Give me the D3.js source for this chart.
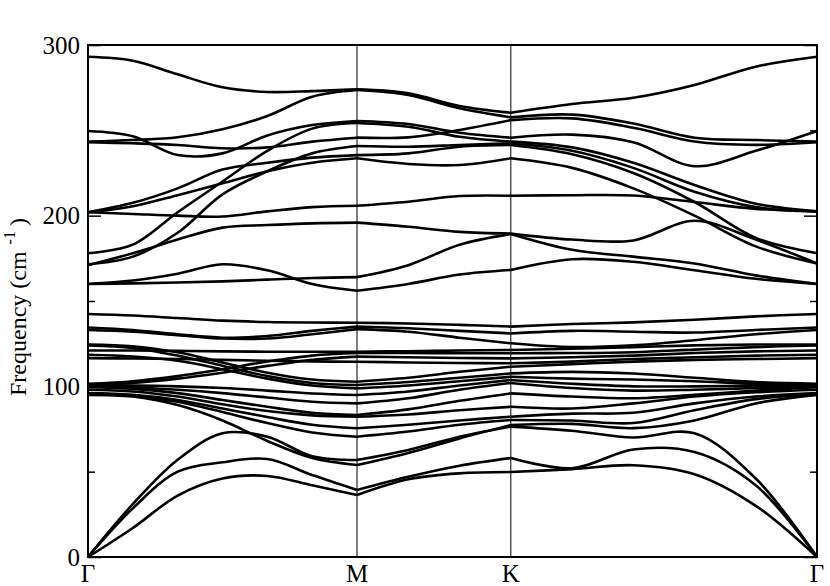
<!DOCTYPE html>
<html><head><meta charset="utf-8">
<script src="https://cdn.jsdelivr.net/npm/d3@7"></script>
<style>
body{margin:0;background:#fff}
svg text{font-family:"Liberation Serif","Times New Roman","DejaVu Serif",serif !important;fill:#000}
</style>
</head><body><svg id="c" width="830" height="586"></svg>
<script>
// high-symmetry points along the path (normalized path length) and samples per segment
const kLabels = ["Γ", "M", "K", "Γ"];
const kPos = [0, 0.369, 0.580, 1];
const segSamples = [6, 3, 5];
const yMajor = [0, 100, 200, 300];
const yMinor = [50, 150, 250];

// frequencies (cm^-1) at the sampled k points, Γ-M (7), M-K (3), K-Γ (5)
const acoustic = [
  [0, 17, 36, 46, 47.5, 42, 36.3, 45.5, 49, 49.8, 51.5, 53.8, 48.5, 30, 0],
  [0, 28.5, 50, 55.5, 57.4, 48, 39.3, 47, 53.5, 58, 52, 63, 61.5, 42, 0],
  [0, 31, 57, 72.5, 70.5, 59, 56.8, 62.7, 70.5, 76.4, 74, 70, 72.5, 46, 0]
];
const middleBands = [
  [142.4, 141.5, 140, 138.5, 137.7, 137.4, 137.3, 136.8, 136, 135, 136.5, 137.5, 139, 141, 142.4],
  [134.5, 133, 130.5, 128.5, 129.5, 132.5, 135, 134, 132.5, 131, 132.5, 132, 131.5, 133, 134.5],
  [133, 132, 130, 128, 128, 130.5, 133.5, 132, 128.5, 125.2, 123, 124, 127, 130.5, 133],
  [124.5, 123.5, 120, 114, 108, 104, 102.7, 105, 108.5, 111.5, 113, 114.5, 115.5, 116, 116.5],
  [124, 122.5, 118, 112, 106, 102, 100.8, 102.5, 105, 107.6, 108.5, 107.5, 105, 102.5, 101.5],
  [121, 121, 120.8, 120.5, 120.3, 120.3, 120.3, 120.6, 121, 121.3, 122, 123, 124, 124.5, 124.5],
  [118.5, 117.5, 115, 110, 104.5, 100.5, 98.8, 100.5, 103, 105.6, 104.5, 104, 103, 101.5, 101],
  [116.5, 116.3, 116, 115.5, 115, 114.6, 114.4, 114, 113.7, 113.5, 114.5, 116, 117, 118, 118.5],
  [101.5, 103, 106, 110, 114.5, 118, 119.5, 119.5, 119.4, 119.4, 119.5, 120, 121.5, 123, 124],
  [101, 102, 104.5, 108, 112, 115.5, 117.4, 117, 116.6, 116.4, 117, 118, 119.5, 120.5, 121],
  [100.5, 100.5, 100, 99, 97.5, 95.8, 94.9, 97, 100.5, 103.7, 101.5, 100, 100, 100.3, 100.5],
  [100, 99.5, 98, 96, 93.5, 91, 90, 93, 98, 102, 99, 97.5, 98, 99, 100],
  [99.5, 98.5, 96, 92, 88, 84.5, 83.2, 86.5, 91.5, 95.9, 94, 93, 95, 97.5, 99.5],
  [98, 97, 94, 89.5, 85.5, 83, 82.2, 83.5, 86, 88, 87, 90, 94, 96.5, 98],
  [96, 95, 92, 87, 82, 77.5, 75.4, 77.5, 80, 82.2, 84, 84.5, 90, 94, 96],
  [95.5, 94.5, 91, 85, 78.5, 73, 70.5, 73.5, 77.5, 80.3, 80, 78.5, 86, 92.5, 95.5],
  [95, 94, 89, 80, 68, 58, 53.9, 61, 69.5, 77.3, 78, 75.5, 80, 90, 95]
];
const upperBands = [
  [293.1, 290.8, 282.8, 275.2, 272.5, 273.0, 274.0, 271.7, 264.3, 260.3, 265.4, 269.1, 276.6, 287.3, 293.1],
  [243.4, 244.3, 245.9, 250.6, 258.4, 269.7, 273.6, 270.7, 262.9, 257.6, 259.2, 254, 245.7, 244.3, 243.4],
  [249.6, 246.5, 235.5, 236.5, 247, 253.1, 255.5, 253.7, 248.6, 245.7, 247.5, 243, 229, 238, 249.6],
  [243, 242.4, 241.4, 239.5, 240, 243.4, 245.7, 245.9, 250.2, 256, 257, 251.5, 243.5, 241.5, 243],
  [178, 183, 202, 220, 238, 251, 254.3, 252.1, 246.2, 243.4, 240, 231, 218, 207, 202.5],
  [171.5, 176, 190, 212.5, 226, 236.5, 240.8, 240.4, 241.4, 242.4, 238, 228, 214, 205, 202.5],
  [202, 207.5, 216, 227, 231, 234, 235.5, 236.5, 240.4, 241.4, 236, 225, 208, 187, 178],
  [202, 205.5, 212, 219, 226, 231, 233.6, 230.3, 229.7, 233.6, 228, 216, 200, 182, 172],
  [202, 201, 200, 199.5, 202.5, 205, 205.8, 208.2, 211.5, 211.7, 212, 211.8, 208, 204, 202.5],
  [171, 178, 186, 193, 194.5, 195.5, 195.9, 193.5, 190.5, 189.5, 186, 185.5, 197, 186, 172],
  [160, 160.3, 160.8, 161.5, 162.5, 163.5, 164, 171, 183, 189.3, 180, 176, 172, 165, 160],
  [160, 162, 166, 171.5, 168, 160, 156, 160, 165.5, 168.2, 174.5, 173, 168, 163, 160]
];

const svg = d3.select("#c");
const x = d3.scaleLinear().domain([0, 1]).range([88, 817]);
const y = d3.scaleLinear().domain([0, 300]).range([557, 45]);

// k grid
const kGrid = [];
const segStart = [];
segSamples.forEach((n, s) => {
  segStart.push(kGrid.length === 0 ? 0 : kGrid.length - 1);
  for (let i = (s === 0 ? 0 : 1); i <= n; i++) kGrid.push(kPos[s] + (kPos[s + 1] - kPos[s]) * i / n);
});

const line = d3.line().x(d => x(d[0])).y(d => y(d[1])).curve(d3.curveCatmullRom.alpha(0.5));

// symmetry lines
svg.selectAll("line.sym").data(kPos.slice(1, -1)).enter().append("line")
  .attr("x1", d => x(d)).attr("x2", d => x(d)).attr("y1", y(0)).attr("y2", y(300))
  .attr("stroke", "#000").attr("stroke-width", 1);

const allBands = acoustic.concat(middleBands, upperBands);
const g = svg.append("g");
allBands.forEach(b => {
  segSamples.forEach((n, s) => {
    const st = segStart[s];
    const pts = [];
    for (let i = st; i <= st + n; i++) pts.push([kGrid[i], b[i]]);
    g.append("path").attr("d", line(pts)).attr("fill", "none")
      .attr("stroke", "#000").attr("stroke-width", 2.6).attr("stroke-linejoin", "round");
  });
});

// frame
svg.append("rect").attr("x", x(0)).attr("y", y(300)).attr("width", x(1) - x(0)).attr("height", y(0) - y(300))
  .attr("fill", "none").attr("stroke", "#000").attr("stroke-width", 2);

// y axes
const left = svg.append("g").attr("transform", `translate(${x(0)},0)`)
  .call(d3.axisLeft(y).tickValues(yMajor).tickSizeInner(-13).tickSizeOuter(0).tickPadding(8));
const leftMinor = svg.append("g").attr("transform", `translate(${x(0)},0)`)
  .call(d3.axisLeft(y).tickValues(yMinor).tickSizeInner(-7).tickSizeOuter(0).tickFormat(""));
const right = svg.append("g").attr("transform", `translate(${x(1)},0)`)
  .call(d3.axisRight(y).tickValues(yMajor).tickSizeInner(-13).tickSizeOuter(0).tickFormat(""));
const rightMinor = svg.append("g").attr("transform", `translate(${x(1)},0)`)
  .call(d3.axisRight(y).tickValues(yMinor).tickSizeInner(-7).tickSizeOuter(0).tickFormat(""));
[left, leftMinor, right, rightMinor].forEach(a => {
  a.select(".domain").remove();
  a.selectAll("line").attr("stroke", "#000").attr("stroke-width", 1.5);
});
left.attr("font-family", null);
left.selectAll("text").attr("font-size", 25);

// x labels
svg.selectAll("text.k").data(kLabels).enter().append("text")
  .attr("x", (d, i) => x(kPos[i])).attr("y", 582).attr("text-anchor", "middle")
  .attr("font-size", 25).text(d => d);

// y title
const t = svg.append("text").attr("transform", "translate(26,396) rotate(-90)")
  .attr("text-anchor", "start").attr("font-size", 24);
t.append("tspan").text("Frequency (cm");
t.append("tspan").attr("dx", 7).attr("dy", -11).attr("font-size", 16).text("-1");
t.append("tspan").attr("dx", 5).attr("dy", 11).text(")");
</script></body></html>
